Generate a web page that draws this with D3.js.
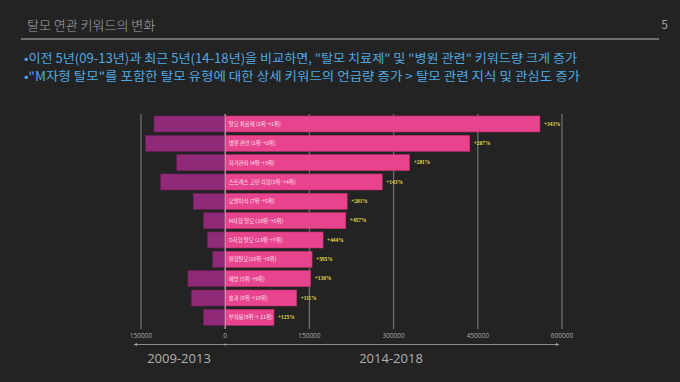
<!DOCTYPE html>
<html><head><meta charset="utf-8">
<script src="https://cdn.jsdelivr.net/npm/d3@7"></script>
<style>
html,body{margin:0;padding:0;background:#232323;}
svg{display:block;}
</style></head>
<body>
<svg id="c" width="680" height="382"></svg>
<script>
const categories = ["탈모 치료제 (2위→1위)","병원 관련 (1위→2위)","자가관리 (4위→3위)","스트레스 고민 걱정(3위→4위)","모발이식 (7위→5위)","M자형 탈모 (10위→6위)","O자형 탈모 (13위→7위)","원형탈모(16위→8위)","예방 (5위→9위)","효과 (6위→10위)","부작용(9위→ 11위)"];
const before = [126800, 142000, 86300, 115000, 57000, 38600, 32000, 22300, 66500, 60000, 38600];
const after = [560700, 435700, 328600, 279800, 217300, 214900, 174400, 154800, 152400, 127400, 86900];
const changes = ["+343%","+207%","+281%","+143%","+281%","+457%","+444%","+595%","+130%","+111%","+125%"];
const tickValues = [-150000, 0, 150000, 300000, 450000, 600000];
const tickLabels = ["150000","0","150000","300000","450000","600000"];
const periods = ["2009-2013","2014-2018"];
const title = "탈모 연관 키워드의 변화";
const pageNo = "5";
const bullets = ["•이전 5년(09-13년)과 최근 5년(14-18년)을 비교하면, \"탈모 치료제\" 및 \"병원 관련\" 키워드량 크게 증가",
                 "•\"M자형 탈모\"를 포함한 탈모 유형에 대한 상세 키워드의 언급량 증가 > 탈모 관련 지식 및 관심도 증가"];

const svg = d3.select("#c");
const KR = "'Noto Sans CJK KR','Noto Sans',sans-serif";

svg.append("rect").attr("width",680).attr("height",382).attr("fill","#232323");

// header
svg.append("text").attr("x",27).attr("y",30).attr("fill","#a6a6a6")
  .attr("font-family",KR).attr("font-size",13).attr("font-weight",300).text(title);
svg.append("text").attr("x",668).attr("y",29).attr("text-anchor","end").attr("fill","#a6a6a6")
  .attr("font-family",KR).attr("font-size",12).text(pageNo);
svg.append("line").attr("x1",21).attr("x2",659).attr("y1",39).attr("y2",39)
  .attr("stroke","#8a8a8a").attr("stroke-width",1.5);

const bw = [553, 556];
bullets.forEach((b,i)=>{
  svg.append("text").attr("x",24).attr("y",63+i*18).attr("fill","#4ea9e2")
    .attr("font-family",KR).attr("font-size",12.5)
    .attr("textLength",bw[i]).attr("lengthAdjust","spacingAndGlyphs").text(b);
});

// scales
const x = d3.scaleLinear().domain([-150000,600000]).range([141,562]);
const y = d3.scaleBand().domain(categories).range([114.3,327]).paddingInner(0.172).paddingOuter(0.086);

// grid
const g = svg.append("g");
g.selectAll("line.grid").data(tickValues).join("line")
  .attr("x1",d=>x(d)).attr("x2",d=>x(d)).attr("y1",114).attr("y2",329)
  .attr("stroke","#6e6e6e").attr("stroke-width",1.3);

// bars
g.selectAll("rect.l").data(categories).join("rect")
  .attr("x",(d,i)=>x(-before[i])).attr("width",(d,i)=>x(0)-x(-before[i]))
  .attr("y",d=>y(d)).attr("height",y.bandwidth())
  .attr("fill","#8e2a78").attr("stroke","#6e1f5d").attr("stroke-width",0.6);
g.selectAll("rect.r").data(categories).join("rect")
  .attr("x",x(0)).attr("width",(d,i)=>x(after[i])-x(0))
  .attr("y",d=>y(d)).attr("height",y.bandwidth())
  .attr("fill","#e8448d").attr("stroke","#b8306c").attr("stroke-width",0.6);

// zero line over bars
g.append("line").attr("x1",x(0)).attr("x2",x(0)).attr("y1",114).attr("y2",329)
  .attr("stroke","#f2b6d2").attr("stroke-width",1).attr("opacity",0.8);

// labels
g.selectAll("text.cat").data(categories).join("text")
  .attr("x",x(0)+3.5).attr("y",d=>y(d)+y.bandwidth()/2+2)
  .attr("fill","#fbe3ee").attr("font-family",KR).attr("font-size",5.4).text(d=>d);
g.selectAll("text.pct").data(categories).join("text")
  .attr("x",(d,i)=>x(after[i])+4).attr("y",d=>y(d)+y.bandwidth()/2+1.8)
  .attr("fill","#e4df4a").attr("font-family","'Liberation Serif',serif").attr("font-weight","bold")
  .attr("font-size",5.4).text((d,i)=>changes[i]);

// tick labels
g.selectAll("text.tick").data(tickValues).join("text")
  .attr("x",d=>x(d)).attr("y",338).attr("text-anchor","middle")
  .attr("fill","#a8a8a8").attr("font-family","'Open Sans',sans-serif").attr("font-size",6.5)
  .text((d,i)=>tickLabels[i]);

// arrow
const ay = 344.5;
svg.append("line").attr("x1",134).attr("x2",559).attr("y1",ay).attr("y2",ay)
  .attr("stroke","#a8a8a8").attr("stroke-width",0.8);
svg.append("path").attr("d",`M134,${ay} l3,-1.6 v3.2 z M559,${ay} l-3,-1.6 v3.2 z`).attr("fill","#a8a8a8");
svg.append("circle").attr("cx",x(0)).attr("cy",ay).attr("r",1).attr("fill","#a8a8a8");

const px = [179, 391];
periods.forEach((p,i)=>{
  svg.append("text").attr("x",px[i]).attr("y",363).attr("text-anchor","middle")
    .attr("fill","#b0b0b0").attr("font-family","'Open Sans',sans-serif").attr("font-size",13).text(p);
});
</script>
</body></html>
